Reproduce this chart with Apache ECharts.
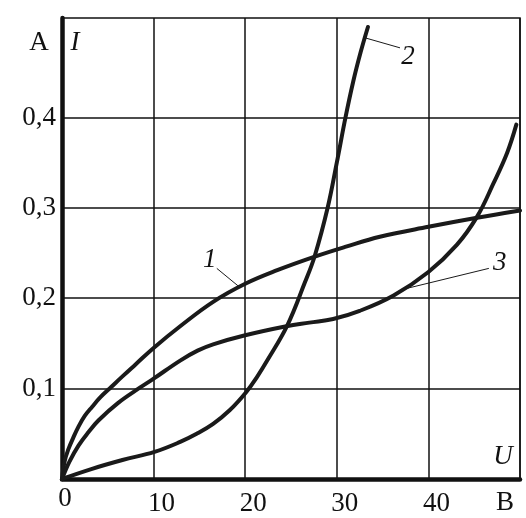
<!DOCTYPE html>
<html>
<head>
<meta charset="utf-8">
<script src="https://cdn.jsdelivr.net/npm/echarts@6/dist/echarts.min.js"></script>
<style>
html,body{margin:0;padding:0;background:#fff;}
#c{width:526px;height:518px;}
</style>
</head>
<body>
<div id="c"></div>
<script>
// Curve 1
const U1 = [0, 0.3, 0.7, 1.2, 1.8, 2.5, 3.3, 4.2, 5.4, 6.6, 8, 10, 12.9, 16.5, 20, 23.5, 27.6, 31, 34.7, 40, 45.3, 50];
const I1 = [0, 0.020, 0.033, 0.045, 0.058, 0.070, 0.080, 0.0905, 0.102, 0.1135, 0.1265, 0.145, 0.169, 0.196, 0.216, 0.231, 0.246, 0.257, 0.268, 0.279, 0.289, 0.297];
// Curve 2
const U2 = [0, 3.2, 6.6, 10.1, 12.9, 14.7, 16.5, 18.3, 20.1, 21.3, 22.4, 24.6, 26.5, 27.6, 29.0, 30.0, 30.95, 31.8, 32.6, 33.4];
const I2 = [0, 0.011, 0.021, 0.030, 0.041, 0.050, 0.061, 0.076, 0.096, 0.113, 0.131, 0.170, 0.217, 0.247, 0.300, 0.350, 0.400, 0.440, 0.472, 0.500];
// Curve 3
const U3 = [0, 0.8, 1.8, 2.9, 4, 6.1, 8.5, 10, 12.9, 14.8, 16.5, 20, 24.5, 27, 29.6, 32.5, 36.2, 40, 43.1, 45.3, 47.1, 48.6, 49.6];
const I3 = [0, 0.019, 0.037, 0.052, 0.065, 0.084, 0.101, 0.111, 0.131, 0.142, 0.149, 0.159, 0.169, 0.173, 0.177, 0.186, 0.203, 0.229, 0.259, 0.29, 0.327, 0.361, 0.392];

const xTickLabels = ['0', '10', '20', '30', '40'];
const yTickLabels = ['0,1', '0,2', '0,3', '0,4'];
const yGridValues = [0.1, 0.2, 0.3, 0.4];
const curveNames = ['1', '2', '3'];
// leader lines: [point on curve, label end] in data units
const leader1 = [[19.3, 0.213], [16.9, 0.233]];
const leader2 = [[33.1, 0.488], [36.9, 0.477]];
const leader3 = [[37.7, 0.211], [46.6, 0.233]];

const FONT = "'Liberation Serif','DejaVu Serif',serif";
const pair = (u, i) => u.map((v, k) => [v, i[k]]);

const chart = echarts.init(document.getElementById('c'), null, {renderer: 'canvas'});

const curveStyle = {color: '#1a1a1a', width: 4, cap: 'round', join: 'round'};
const leaderStyle = {color: '#1a1a1a', width: 1};
const curve = (d) => ({type: 'line', data: d, smooth: 0.4, showSymbol: false, lineStyle: curveStyle, z: 5});

chart.setOption({
  animation: false,
  backgroundColor: '#fff',
  grid: {left: 62, right: 6, top: 18, bottom: 39, show: true, borderColor: '#111', borderWidth: 1.5, containLabel: false},
  xAxis: {
    type: 'value', min: 0, max: 50, interval: 10,
    axisLine: {show: true, onZero: false, lineStyle: {color: '#111', width: 4.5}},
    axisTick: {show: false},
    splitLine: {show: true, lineStyle: {color: '#111', width: 1.5}},
    axisLabel: {
      margin: 6, fontFamily: FONT, fontSize: 27, color: '#111',
      showMaxLabel: false,
      formatter: function (v) {
        const k = Math.round(v / 10);
        if (Math.abs(v - k * 10) > 1e-6 || k >= xTickLabels.length) return '';
        return k === 0 ? '{z|' + xTickLabels[k] + '}' : '{n|' + xTickLabels[k] + '}';
      },
      rich: {
        z: {fontFamily: FONT, fontSize: 27, color: '#111', padding: [0, 0, 0, 6]},
        n: {fontFamily: FONT, fontSize: 27, color: '#111', padding: [5, 0, 0, 16]}
      }
    }
  },
  yAxis: {
    type: 'value', min: 0, max: 0.51, interval: 0.1,
    axisLine: {show: true, onZero: false, lineStyle: {color: '#111', width: 4.5}},
    axisTick: {show: false},
    splitLine: {show: false},
    axisLabel: {
      margin: 6, fontFamily: FONT, fontSize: 27, color: '#111',
      padding: [8, 0, 0, 0],
      formatter: function (v) {
        const k = Math.round(v * 10);
        if (Math.abs(v * 10 - k) > 1e-6 || k < 1 || k > yTickLabels.length) return '';
        return yTickLabels[k - 1];
      }
    }
  },
  series: [
    Object.assign(curve(pair(U1, I1)), {
      markLine: {
        silent: true, symbol: ['none', 'none'], label: {show: false},
        lineStyle: {color: '#111', width: 1.5, type: 'solid'},
        data: yGridValues.map(v => ({yAxis: v}))
      }
    }),
    curve(pair(U2, I2)),
    curve(pair(U3, I3)),
    {type: 'line', data: leader1, showSymbol: false, lineStyle: leaderStyle, z: 4},
    {type: 'line', data: leader2, showSymbol: false, lineStyle: leaderStyle, z: 4},
    {type: 'line', data: leader3, showSymbol: false, lineStyle: leaderStyle, z: 4}
  ]
});

const ends = [leader1[1], leader2[1], leader3[1]];
const offs = [[-7, -8], [8, 9], [11, -5]];
const textStyle = (t, x, y, italic) => ({
  type: 'text', x: x, y: y, z: 10,
  style: {text: t, fontFamily: FONT, fontSize: 27, fontStyle: italic ? 'italic' : 'normal', fill: '#111', align: 'center', verticalAlign: 'middle'}
});
const graphics = ends.map((e, k) => {
  const p = chart.convertToPixel({gridIndex: 0}, e);
  return textStyle(curveNames[k], p[0] + offs[k][0], p[1] + offs[k][1], true);
});
graphics.push(textStyle('A', 39, 43, false));
graphics.push(textStyle('I', 75, 43, true));
graphics.push(textStyle('U', 503, 457, true));
graphics.push(textStyle('B', 505, 503, false));
chart.setOption({graphic: graphics});
</script>
</body>
</html>
